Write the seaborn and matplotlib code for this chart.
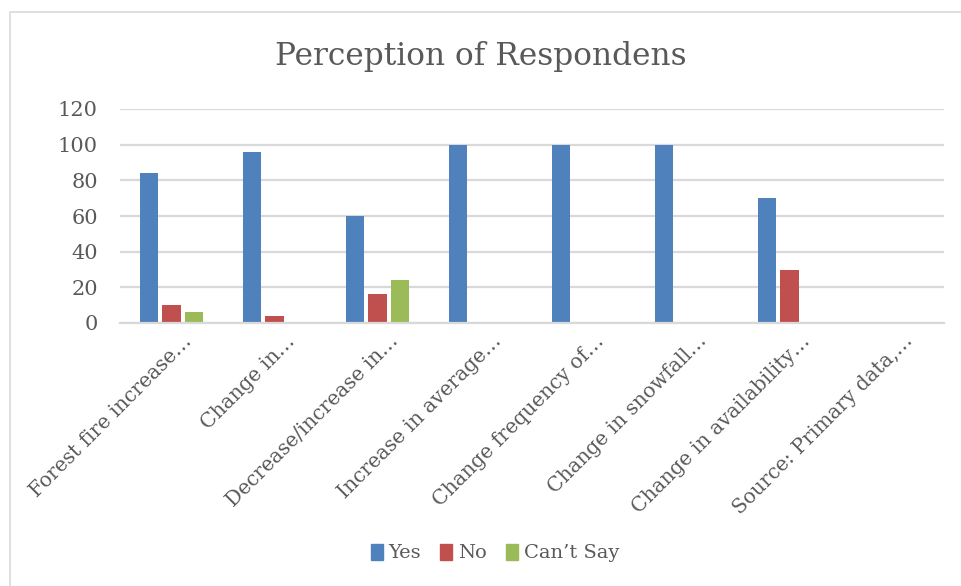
import matplotlib
matplotlib.use("Agg")
import matplotlib.pyplot as plt
import matplotlib.patches as mpatches
import matplotlib.transforms as mtransforms
import seaborn as sns
import pandas as pd

categories = [
    "Forest fire increase…",
    "Change in…",
    "Decrease/increase in…",
    "Increase in average…",
    "Change frequency of…",
    "Change in snowfall…",
    "Change in availability…",
    "Source: Primary data,…",
]
yes_values = [84, 96, 60, 100, 100, 100, 70, 0]
no_values = [10, 4, 16, 0, 0, 0, 30, 0]
cant_say_values = [6, 0, 24, 0, 0, 0, 0, 0]
series_names = ["Yes", "No", "Can’t Say"]
y_ticks = [0, 20, 40, 60, 80, 100, 120]

colors = ["#4F81BD", "#C0504D", "#9BBB59"]
text_color = "#595959"
grid_color = "#D9D9D9"

rows = []
for name, vals in zip(series_names, [yes_values, no_values, cant_say_values]):
    for cat, v in zip(categories, vals):
        rows.append({"category": cat, "series": name, "value": v})
df = pd.DataFrame(rows)

sns.set_theme(style="white")
plt.rcParams["font.family"] = ["DejaVu Serif"]

fig = plt.figure(figsize=(9.61, 5.86), dpi=100)
ax = fig.add_axes([120 / 961, 1 - 323 / 586, 824 / 961, 214 / 586])

sns.barplot(
    data=df, x="category", y="value", hue="series",
    order=categories, hue_order=series_names, palette=colors,
    width=0.66, gap=0.2, saturation=1, ax=ax, legend=False,
    edgecolor="none",
)

ax.set_ylim(0, 120)
ax.set_yticks(y_ticks)
ax.set_xlim(-0.5, len(categories) - 0.5)
ax.yaxis.grid(True, color=grid_color, linewidth=1.6)
ax.set_axisbelow(True)
for side in ["top", "right", "left"]:
    ax.spines[side].set_visible(False)
ax.spines["bottom"].set_color(grid_color)
ax.spines["bottom"].set_linewidth(1.6)
ax.tick_params(axis="y", length=0, colors=text_color, labelsize=15, pad=16)
ax.tick_params(axis="x", length=0, colors=text_color, labelsize=14.5, pad=6)
ax.set_xlabel("")
ax.set_ylabel("")
shift = mtransforms.ScaledTranslation(11 / 100, 0, fig.dpi_scale_trans)
for lbl in ax.get_xticklabels():
    lbl.set_rotation(45)
    lbl.set_ha("right")
    lbl.set_rotation_mode("anchor")
    lbl.set_transform(lbl.get_transform() + shift)

fig.text(0.5, 1 - 56 / 586, "Perception of Respondens", ha="center", va="center",
         fontsize=22.5, color=text_color)

handles = [mpatches.Patch(color=c, label=n) for c, n in zip(colors, series_names)]
fig.legend(handles=handles, loc="center", bbox_to_anchor=(0.515, 1 - 553 / 586),
           ncol=3, frameon=False, fontsize=14, labelcolor=text_color,
           handlelength=0.6, handleheight=0.9, handletextpad=0.3, columnspacing=1.0)

# chart frame
fig.add_artist(mpatches.Rectangle((10 / 961, -0.05), 1.0, 1 - 12 / 586 + 0.05,
                                  transform=fig.transFigure, fill=False,
                                  edgecolor=grid_color, linewidth=1.2))

fig.savefig("out.png", dpi=100, facecolor="white")
